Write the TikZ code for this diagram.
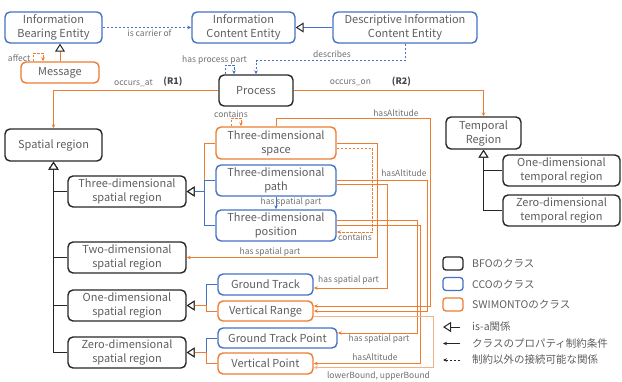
\documentclass[tikz,border=0pt]{standalone}
\usepackage{fontspec}
\setmainfont{Noto Sans CJK JP}
\usetikzlibrary{arrows.meta}
\definecolor{cOr}{HTML}{ED7D31}
\definecolor{cOrL}{HTML}{F4B183}
\definecolor{cBl}{HTML}{4472C4}
\definecolor{cBk}{HTML}{262626}
\definecolor{cTx}{HTML}{5E5E5E}
\definecolor{cLb}{HTML}{707070}
\begin{document}
\begin{tikzpicture}[x=1pt,y=-1pt,
 box/.style={draw, rounded corners=5pt, line width=1.4pt, align=center, inner sep=1pt, text=cTx, font=\fontsize{11}{14}\selectfont},
 bfo/.style={box, draw=cBk},
 cco/.style={box, draw=cBl},
 swi/.style={box, draw=cOr},
 lbl/.style={text=cLb, font=\fontsize{8.5}{9}\selectfont, inner sep=0pt},
 lgt/.style={text=cTx, font=\fontsize{10.5}{12}\selectfont, inner sep=0pt, anchor=west},
 rel/.style={-{Stealth[length=4pt,width=3.5pt]}, line width=0.8pt},
 drel/.style={rel, dash pattern=on 2.5pt off 1.5pt},
 isa/.style={-{Triangle[length=8pt,width=10pt,color=cBk,fill=white]}, line width=1pt},
]
\useasboundingbox (0,0) rectangle (622,381);

% ---------- nodes ----------
\node[cco, minimum width=97pt, minimum height=31pt] (ibe) at (53.5,27.5) {Information\\Bearing Entity};
\node[cco, minimum width=103pt, minimum height=31pt] (ice) at (243.5,27.5) {Information\\Content Entity};
\node[cco, minimum width=144pt, minimum height=31pt] (dice) at (405,27.5) {Descriptive Information\\Content Entity};
\node[swi, minimum width=78pt, minimum height=21pt] (msg) at (60,72.5) {Message};
\node[bfo, minimum width=74pt, minimum height=31pt] (proc) at (256,90.5) {Process};
\node[bfo, minimum width=97pt, minimum height=32pt] (spr) at (53.5,145) {Spatial region};
\node[bfo, minimum width=118pt, minimum height=31pt] (s3d) at (127,191.5) {Three-dimensional\\spatial region};
\node[bfo, minimum width=118pt, minimum height=31pt] (s2d) at (127,257.5) {Two-dimensional\\spatial region};
\node[bfo, minimum width=118pt, minimum height=31pt] (s1d) at (127,305.5) {One-dimensional\\spatial region};
\node[bfo, minimum width=118pt, minimum height=31pt] (s0d) at (127,352.5) {Zero-dimensional\\spatial region};
\node[swi, minimum width=120pt, minimum height=32pt] (space) at (276,143) {Three-dimensional\\space};
\node[cco, minimum width=120pt, minimum height=31pt] (path) at (276,180.5) {Three-dimensional\\path};
\node[cco, minimum width=120pt, minimum height=31pt] (pos) at (276,225.5) {Three-dimensional\\position};
\node[cco, minimum width=95pt, minimum height=21pt] (gt) at (265.5,284.5) {Ground Track};
\node[swi, minimum width=95pt, minimum height=20pt] (vr) at (265.5,311) {Vertical Range};
\node[cco, minimum width=119pt, minimum height=20pt] (gtp) at (277.5,338) {Ground Track Point};
\node[swi, minimum width=95pt, minimum height=21pt] (vp) at (265.5,363.5) {Vertical Point};
\node[bfo, minimum width=75pt, minimum height=32pt] (tr) at (483.5,133) {Temporal\\Region};
\node[bfo, minimum width=117pt, minimum height=31pt] (t1) at (561.5,170.5) {One-dimensional\\temporal region};
\node[bfo, minimum width=117pt, minimum height=31pt] (t0) at (561.5,210.5) {Zero-dimensional\\temporal region};

% ---------- is-a ----------
\draw[isa, cBl] (dice.west) -- (ice.east);
\draw[isa, cOr] (msg.north) -- (msg.north |- ibe.south);
\foreach \n in {s3d,s2d,s1d,s0d} \draw[isa, cBk] (\n.west) -| (spr.south);
\foreach \n in {t1,t0} \draw[isa, cBk] (\n.west) -| (tr.south);
\draw[isa, cOr] (space.west) -| ([xshift=18pt]s3d.east) -- (s3d.east);
\draw[isa, cBl] (path.west) -| ([xshift=18pt]s3d.east) -- (s3d.east);
\draw[isa, cBl] (pos.west) -| ([xshift=18pt]s3d.east) -- (s3d.east);
\draw[isa, cBl] (gt.west) -| ([xshift=20pt]s1d.east) -- (s1d.east);
\draw[isa, cOr] (vr.west) -| ([xshift=20pt]s1d.east) -- (s1d.east);
\draw[isa, cBl] (gtp.west) -| ([xshift=20pt]s0d.east) -- (s0d.east);
\draw[isa, cOr] (vp.west) -| ([xshift=20pt]s0d.east) -- (s0d.east);

% ---------- relations ----------
\draw[drel, cBl] (ibe.east) -- (ice.west);
\node[lbl] (l1) at (149.5,33.5) {is carrier of};
\draw[drel, cOr] ([xshift=-27pt]msg.north) -- ++(0,-8) -| ([xshift=-17pt]msg.north);
\node[lbl, anchor=east] (l2) at (30.5,58) {affect};
\draw[drel, cBl] ([xshift=-31pt]proc.north) -- ++(0,-9) -| ([xshift=-22pt]proc.north);
\node[lbl] (l3) at (214.5,60) {has process part};
\draw[drel, cBl] (dice.south) -- ++(0,17) -| (proc.north);
\node[lbl] (l4) at (332,54) {describes};
\draw[rel, cOr] (proc.west) -| (spr.north);
\node[lbl] (l5) at (133.5,83) {occurs\_at};
\node[lbl, font=\fontsize{9}{9}\selectfont\bfseries, text=cBk!85] (l6) at (173,82) {(R1)};
\draw[rel, cOr] (proc.east) -| (tr.north);
\node[lbl] (l7) at (350.5,83) {occurs\_on};
\node[lbl, font=\fontsize{9}{9}\selectfont\bfseries, text=cBk!85] (l8) at (401.5,82) {(R2)};

\draw[drel, cOr] ([xshift=-45pt]space.north) -- ++(0,-8) -| ([xshift=-35pt]space.north);
\node[lbl] (l9) at (231,114) {contains};
\draw[rel, cBl] (path.south) -- (pos.north);
\node[lbl] (l10) at (291,202) {has spatial part};

\draw[rel, cOr] (space.north) -- ++(0,-8) -- ++(154,0) |- ([yshift=5pt]vr.east);
\node[lbl] (l11) at (396,113) {hasAltitude};
\draw[rel, cOr] (space.east) -- ++(41,0) |- (s2d.east);
\node[lbl] (l12) at (270,252) {has spatial part};
\draw[drel, cOr] ([yshift=-5pt]space.east) -- ++(36,0) |- ([yshift=-6.5pt]pos.east);
\node[lbl] (l13) at (355,237.5) {contains};
\draw[rel, cOr] ([yshift=0.5pt]path.east) -- ++(91,0) |- (vr.east);
\node[lbl] (l14) at (404,173) {hasAltitude};
\draw[rel, cOr] ([yshift=-3.5pt]path.east) -- ++(51,0) |- ([yshift=-3.5pt]gt.east);
\node[lbl] (l15) at (348.5,280) {has spatial part};
\draw[rel, cOr] ([yshift=5.5pt]pos.east) -- ++(81,0) |- ([yshift=5pt]gtp.east);
\node[lbl] (l16) at (379,339) {has spatial part};
\draw[rel, cOr] ([yshift=0.5pt]pos.east) -- ++(84,0) |- (vp.east);
\node[lbl] (l17) at (375,357) {hasAltitude};
\draw[rel, cOrL] ([yshift=-5pt]vr.east) -- ++(120,0) |- ([yshift=-4pt]vp.east);
\node[lbl] (l18) at (378.5,376) {lowerBound, upperBound};

% ---------- legend ----------
\node[bfo, minimum width=20pt, minimum height=13pt, rounded corners=3pt, line width=1.3pt] (lgb) at (453,263.5) {};
\node[cco, minimum width=20pt, minimum height=13pt, rounded corners=3pt, line width=1.3pt] (lgc) at (453,284) {};
\node[swi, minimum width=20pt, minimum height=13pt, rounded corners=3pt, line width=1.3pt] (lgs) at (453,304.5) {};
\node[lgt] (tb) at (472,263.5) {BFOのクラス};
\node[lgt] (tc) at (472,284) {CCOのクラス};
\node[lgt] (ts) at (472,304.5) {SWIMONTOのクラス};
\coordinate (ia1) at (460,327); \coordinate (ia2) at (443,327);
\draw[isa, cBk] (ia1) -- (ia2);
\node[lgt] (ti) at (472,327) {is-a関係};
\coordinate (pa1) at (460,343.5); \coordinate (pa2) at (443,343.5);
\draw[rel, cBk, line width=0.6pt] (pa1) -- (pa2);
\node[lgt] (tp) at (472,343.5) {クラスのプロパティ制約条件};
\coordinate (da1) at (460,360); \coordinate (da2) at (443,360);
\draw[drel, cBk, line width=0.6pt] (da1) -- (da2);
\node[lgt] (td) at (472,360) {制約以外の接続可能な関係};
\end{tikzpicture}
\end{document}
